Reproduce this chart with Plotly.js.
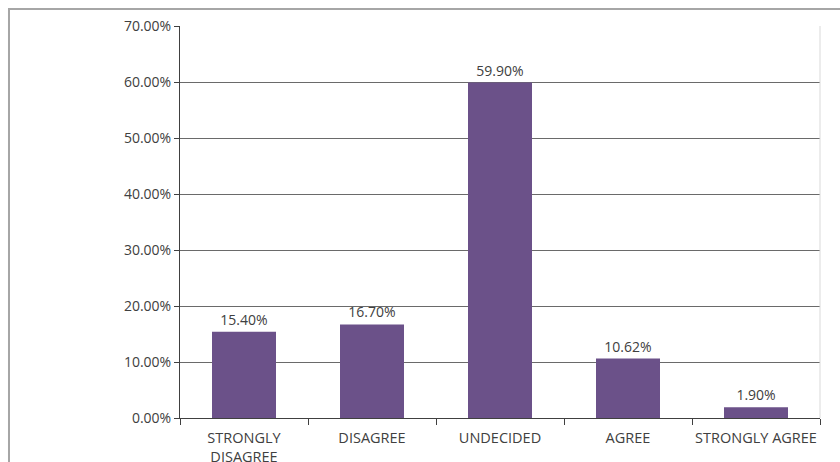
<!DOCTYPE html>
<html>
<head>
<meta charset="utf-8">
<script src="https://cdn.plot.ly/plotly-3.0.1.min.js"></script>
<style>
  html, body { margin: 0; padding: 0; background: #fff; }
  #chart { width: 840px; height: 462px; }
</style>
</head>
<body>
<div id="chart"></div>
<script>
// Survey response shares per answer option
const categories = ["STRONGLY<br>DISAGREE", "DISAGREE", "UNDECIDED", "AGREE", "STRONGLY AGREE"];
const shares = [15.40, 16.70, 59.90, 10.62, 1.90];
const valueLabels = ["15.40%", "16.70%", "59.90%", "10.62%", "1.90%"];
const yTickValues = [0, 10, 20, 30, 40, 50, 60, 70];
const yTickLabels = ["0.00%", "10.00%", "20.00%", "30.00%", "40.00%", "50.00%", "60.00%", "70.00%"];

const font = "'Open Sans', 'Noto Sans', 'DejaVu Sans', sans-serif";

const trace = {
  type: "bar",
  x: categories,
  y: shares,
  text: valueLabels,
  textposition: "outside",
  cliponaxis: false,
  textfont: { family: font, size: 14, color: "#404040" },
  marker: { color: "#6b5189", line: { width: 0 } },
  hoverinfo: "none"
};

const layout = {
  width: 840,
  height: 462,
  margin: { l: 180, r: 20, t: 26, b: 44, pad: 0 },
  paper_bgcolor: "#ffffff",
  plot_bgcolor: "#ffffff",
  showlegend: false,
  bargap: 0.5,
  font: { family: font, size: 14, color: "#595959" },
  xaxis: {
    type: "category",
    tickson: "boundaries",
    ticks: "outside",
    ticklen: 6,
    tickcolor: "#404040",
    tickwidth: 1,
    tickangle: 0,
    ticklabelstandoff: 7,
    showline: true,
    linecolor: "#404040",
    linewidth: 1,
    showgrid: false,
    zeroline: false,
    tickfont: { family: font, size: 14.5, color: "#404040" },
    fixedrange: true
  },
  yaxis: {
    range: [0, 70],
    tickvals: yTickValues,
    ticktext: yTickLabels,
    ticks: "outside",
    ticklen: 5,
    tickcolor: "#404040",
    showline: true,
    linecolor: "#404040",
    linewidth: 1,
    showgrid: true,
    gridcolor: "#6a6a6a",
    gridwidth: 1,
    zeroline: false,
    tickfont: { family: font, size: 14, color: "#404040" },
    fixedrange: true
  },
  shapes: [
    // outer chart frame (left and top edges)
    {
      type: "path", xref: "paper", yref: "paper",
      path: "M -0.2672,-0.2 L -0.2672,1.0434 L 1.2,1.0434",
      line: { color: "#a6a6a6", width: 2 }
    },
    // light right edge of plot area
    {
      type: "line", xref: "paper", yref: "paper",
      x0: 1, x1: 1, y0: 0, y1: 1,
      line: { color: "#d9d9d9", width: 1 }
    }
  ]
};

Plotly.newPlot("chart", [trace], layout, { staticPlot: true, displayModeBar: false });
</script>
</body>
</html>
